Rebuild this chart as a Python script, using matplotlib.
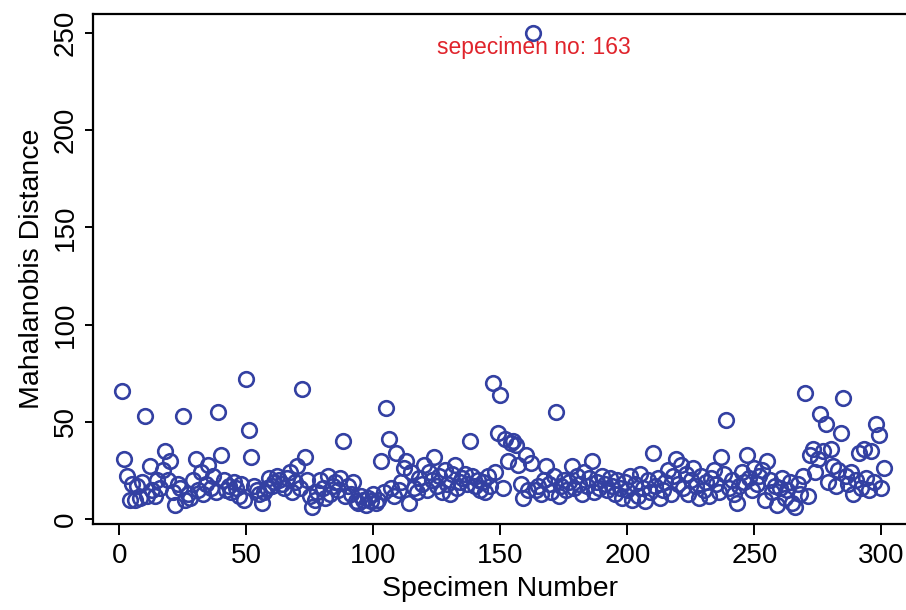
from __future__ import annotations

import matplotlib

matplotlib.use("Agg")
import matplotlib.pyplot as plt
import numpy as np


# Mahalanobis distance per specimen (specimens 1..301)
DISTANCES = [
    66, 31, 22, 10, 18, 10, 17, 11, 19, 53,
    12, 27, 15, 12, 20, 16, 25, 35, 20, 30,
    14, 7, 18, 16, 53, 10, 13, 11, 20, 31,
    15, 24, 13, 18, 28, 16, 22, 14, 55, 33,
    20, 15, 17, 14, 19, 16, 12, 18, 10, 72,
    46, 32, 17, 15, 13, 8, 14, 16, 21, 17,
    19, 22, 20, 18, 16, 21, 24, 14, 19, 27,
    16, 67, 32, 20, 12, 6, 10, 14, 20, 16,
    11, 22, 13, 17, 19, 15, 21, 40, 12, 17,
    13, 19, 9, 8, 12, 10, 7, 11, 9, 13,
    8, 10, 30, 14, 57, 41, 16, 12, 34, 15,
    19, 26, 30, 8, 24, 16, 14, 21, 18, 28,
    15, 24, 20, 32, 17, 22, 14, 25, 18, 13,
    23, 28, 16, 19, 21, 23, 18, 40, 22, 17,
    20, 15, 19, 14, 22, 17, 70, 24, 44, 64,
    16, 41, 30, 39, 40, 38, 28, 18, 11, 33,
    15, 29, 250, 15, 17, 13, 20, 27, 18, 14,
    22, 55, 12, 17, 20, 15, 19, 27, 16, 22,
    18, 13, 24, 17, 21, 30, 14, 19, 16, 22,
    18, 15, 21, 17, 13, 20, 16, 11, 19, 15,
    22, 10, 18, 12, 23, 16, 9, 20, 14, 34,
    17, 21, 11, 15, 19, 25, 13, 22, 31, 18,
    28, 16, 23, 13, 20, 26, 17, 11, 22, 15,
    19, 12, 21, 25, 18, 14, 32, 23, 51, 16,
    20, 13, 8, 17, 24, 19, 33, 21, 15, 26,
    18, 22, 25, 10, 30, 20, 14, 17, 7, 16,
    21, 11, 15, 19, 8, 6, 18, 13, 22, 65,
    12, 33, 36, 24, 31, 54, 35, 49, 19, 36,
    27, 17, 25, 44, 62, 22, 18, 24, 13, 20,
    34, 16, 36, 21, 15, 35, 19, 49, 43, 16,
    26,
]
SPECIMENS = np.arange(1, len(DISTANCES) + 1)

OUTLIER_ID = 163
X_TICKS = [0, 50, 100, 150, 200, 250, 300]
Y_TICKS = [0, 50, 100, 150, 200, 250]

MARKER_COLOR = "#3340a2"
NOTE_COLOR = "#e0242c"


def main() -> None:
    plt.rcParams["font.family"] = ["Liberation Sans", "DejaVu Sans"]

    fig = plt.figure(figsize=(9.06, 6.10), dpi=100)
    ax = fig.add_axes([0.1026, 0.141, 0.8994, 0.836])

    ax.plot(
        SPECIMENS,
        DISTANCES,
        linestyle="none",
        marker="o",
        markersize=10.5,
        markerfacecolor="none",
        markeredgecolor=MARKER_COLOR,
        markeredgewidth=1.9,
        clip_on=False,
    )

    outlier_value = DISTANCES[OUTLIER_ID - 1]
    ax.annotate(
        f"sepecimen no: {OUTLIER_ID}",
        xy=(OUTLIER_ID, outlier_value),
        xytext=(0, -10.5),
        textcoords="offset points",
        ha="center",
        va="center",
        color=NOTE_COLOR,
        fontsize=16.5,
    )

    ax.set_xlim(-10.4, 310.4)
    ax.set_ylim(-2.6, 259.8)
    ax.set_xticks(X_TICKS)
    ax.set_yticks(Y_TICKS)
    ax.set_yticklabels([str(v) for v in Y_TICKS], rotation=90, va="center")
    ax.tick_params(axis="x", labelsize=20, length=8, width=1.4, pad=6)
    ax.tick_params(axis="y", labelsize=20, length=6, width=1.4, pad=4)

    ax.set_xlabel("Specimen Number", fontsize=20.5, labelpad=5)
    ax.set_ylabel("Mahalanobis Distance", fontsize=20.5, labelpad=6)

    for side in ["left", "bottom", "top"]:
        ax.spines[side].set_linewidth(1.6)
    # the right frame edge falls outside the picture in the reference
    ax.spines["right"].set_visible(False)

    fig.savefig("out.png", dpi=100)
    plt.close(fig)


if __name__ == "__main__":
    main()
